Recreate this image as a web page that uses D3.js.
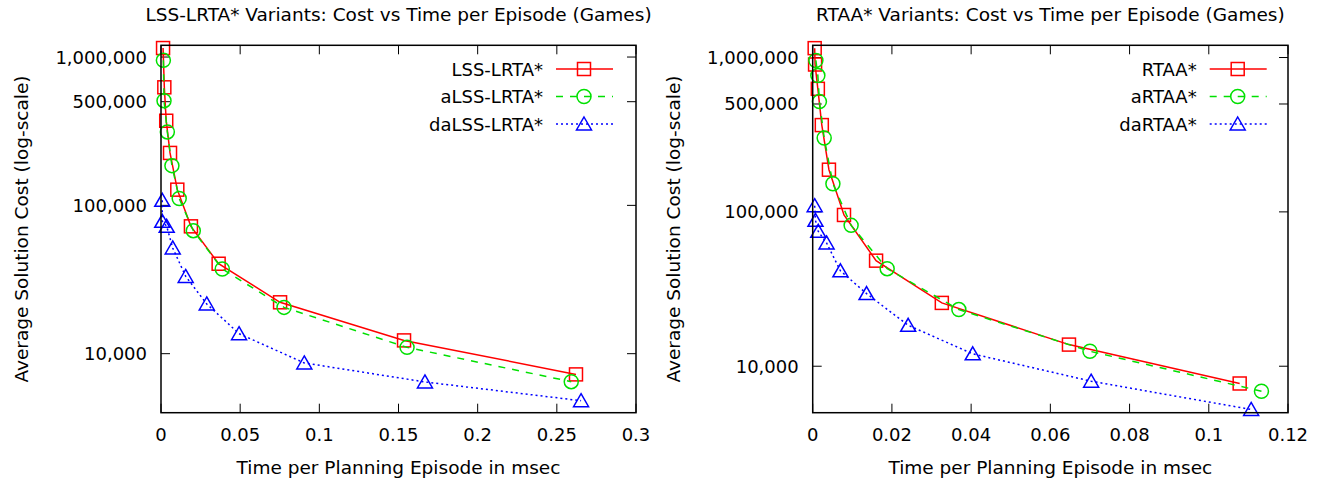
<!DOCTYPE html>
<html>
<head>
<meta charset="utf-8">
<script src="https://cdn.jsdelivr.net/npm/d3@7"></script>
<style>
  body { margin: 0; background: #fff; }
  svg { display: block; font-family: "DejaVu Sans", sans-serif; }
</style>
</head>
<body>
<svg id="chart" width="1325" height="481"></svg>
<script>
// --- data ---
const lssNames = ["LSS-LRTA*", "aLSS-LRTA*", "daLSS-LRTA*"];
const lssTime = [
  [0.0013, 0.0021, 0.0033, 0.0057, 0.0103, 0.0189, 0.0364, 0.0752, 0.1535, 0.2621],
  [0.0015, 0.0019, 0.0040, 0.0069, 0.0115, 0.0204, 0.0387, 0.0777, 0.1554, 0.2591],
  [0.0008, 0.0008, 0.0036, 0.0074, 0.0156, 0.0289, 0.0493, 0.0905, 0.1667, 0.2653]
];
const lssCost = [
  [1150000, 625000, 372000, 225700, 127600, 72200, 40400, 22200, 12290, 7250],
  [950000, 508000, 312600, 185300, 111300, 67500, 37240, 20520, 11030, 6475],
  [108100, 78000, 72200, 51600, 33200, 21630, 13640, 8660, 6447, 4820]
];

const rtaaNames = ["RTAA*", "aRTAA*", "daRTAA*"];
const rtaaTime = [
  [0.0005, 0.0006, 0.0013, 0.0023, 0.0041, 0.0079, 0.0160, 0.0326, 0.0647, 0.1078],
  [0.0008, 0.0013, 0.0017, 0.0029, 0.0051, 0.0097, 0.0188, 0.0369, 0.0700, 0.1133],
  [0.0005, 0.0007, 0.0014, 0.0035, 0.0070, 0.0136, 0.0241, 0.0404, 0.0703, 0.1107]
];
const rtaaCost = [
  [1150000, 901000, 627000, 365000, 187600, 95500, 48300, 25720, 13810, 7730],
  [957000, 764000, 518000, 300900, 152200, 81770, 42870, 23280, 12500, 6890],
  [109700, 88100, 74800, 62900, 41500, 29550, 18420, 12030, 8000, 5245]
];

const yTicks = [10000, 100000, 500000, 1000000];
const yTickLabels = ["10,000", "100,000", "500,000", "1,000,000"];
const lssXTicks = [0, 0.05, 0.1, 0.15, 0.2, 0.25, 0.3];
const lssXTickLabels = ["0", "0.05", "0.1", "0.15", "0.2", "0.25", "0.3"];
const rtaaXTicks = [0, 0.02, 0.04, 0.06, 0.08, 0.1, 0.12];
const rtaaXTickLabels = ["0", "0.02", "0.04", "0.06", "0.08", "0.1", "0.12"];

// --- styles ---
const colors = ["#ff0000", "#00e000", "#0000ff"];
const dashes = [null, "7,7", "2,3"];
const FONT = 18;
const LABEL_FONT = 18.5;

const svg = d3.select("#chart");

function marker(g, kind, cx, cy, color) {
  if (kind === 0) {
    g.append("rect").attr("x", cx - 6.5).attr("y", cy - 6.5)
      .attr("width", 13).attr("height", 13)
      .attr("fill", "none").attr("stroke", color).attr("stroke-width", 1.5);
  } else if (kind === 1) {
    g.append("circle").attr("cx", cx).attr("cy", cy).attr("r", 7)
      .attr("fill", "none").attr("stroke", color).attr("stroke-width", 1.5);
  } else {
    g.append("path")
      .attr("d", `M${cx},${cy - 7} L${cx + 7.5},${cy + 6} L${cx - 7.5},${cy + 6} Z`)
      .attr("fill", "none").attr("stroke", color).attr("stroke-width", 1.5);
  }
}

function panel(opt) {
  const x = d3.scaleLinear().domain(opt.xDomain).range([opt.left, opt.right]);
  const y = d3.scaleLog().domain(opt.yDomain).range([opt.bottom, opt.top]);
  const g = svg.append("g");

  // ticks (inward, mirrored on all sides)
  const tl = 9;
  opt.xTicks.forEach((t, i) => {
    g.append("line").attr("x1", x(t)).attr("x2", x(t))
      .attr("y1", opt.bottom).attr("y2", opt.bottom - tl).attr("stroke", "#000");
    g.append("line").attr("x1", x(t)).attr("x2", x(t))
      .attr("y1", opt.top).attr("y2", opt.top + tl).attr("stroke", "#000");
    g.append("text").attr("x", x(t)).attr("y", opt.bottom + 28)
      .attr("text-anchor", "middle").style("font-size", FONT + "px")
      .text(opt.xTickLabels[i]);
  });
  yTicks.forEach((t, i) => {
    g.append("line").attr("x1", opt.left).attr("x2", opt.left + tl)
      .attr("y1", y(t)).attr("y2", y(t)).attr("stroke", "#000");
    g.append("line").attr("x1", opt.right).attr("x2", opt.right - tl)
      .attr("y1", y(t)).attr("y2", y(t)).attr("stroke", "#000");
    g.append("text").attr("x", opt.left - 14).attr("y", y(t) + 6.5)
      .attr("text-anchor", "end").style("font-size", FONT + "px")
      .text(yTickLabels[i]);
  });

  // series
  const line = d3.line().x(d => x(d[0])).y(d => y(d[1]));
  opt.cost.forEach((c, s) => {
    const pts = opt.time[s].map((t, i) => [t, c[i]]);
    g.append("path").datum(pts).attr("d", line)
      .attr("fill", "none").attr("stroke", colors[s]).attr("stroke-width", 1.5)
      .attr("stroke-dasharray", dashes[s]);
    pts.forEach(p => marker(g, s, x(p[0]), y(p[1]), colors[s]));
  });

  // border
  g.append("rect").attr("x", opt.left).attr("y", opt.top)
    .attr("width", opt.right - opt.left).attr("height", opt.bottom - opt.top)
    .attr("fill", "none").attr("stroke", "#000").attr("stroke-width", 1.5);

  // legend
  opt.names.forEach((n, s) => {
    const ly = 69 + s * 27.5;
    g.append("text").attr("x", opt.legX).attr("y", ly + 6.5)
      .attr("text-anchor", "end").style("font-size", FONT + "px").text(n);
    g.append("line").attr("x1", opt.legX + 13).attr("x2", opt.legX + 70)
      .attr("y1", ly).attr("y2", ly)
      .attr("stroke", colors[s]).attr("stroke-width", 1.5)
      .attr("stroke-dasharray", dashes[s]);
    marker(g, s, opt.legX + 41, ly, colors[s]);
  });

  // titles
  const cx = (opt.left + opt.right) / 2;
  g.append("text").attr("x", cx).attr("y", 21)
    .attr("text-anchor", "middle").style("font-size", LABEL_FONT + "px").text(opt.title);
  g.append("text").attr("x", cx).attr("y", 473.5)
    .attr("text-anchor", "middle").style("font-size", LABEL_FONT + "px")
    .text("Time per Planning Episode in msec");
  g.append("text")
    .attr("transform", `translate(${opt.yLabelX},${(opt.top + opt.bottom) / 2}) rotate(-90)`)
    .attr("text-anchor", "middle").style("font-size", LABEL_FONT + "px")
    .text("Average Solution Cost (log-scale)");
}

panel({
  left: 161, right: 636, top: 45.3, bottom: 412.7,
  xDomain: [0, 0.3], yDomain: [4000, 1200000],
  xTicks: lssXTicks, xTickLabels: lssXTickLabels,
  time: lssTime, cost: lssCost, names: lssNames,
  legX: 543, yLabelX: 28,
  title: "LSS-LRTA* Variants: Cost vs Time per Episode (Games)"
});
panel({
  left: 812.7, right: 1288, top: 45.3, bottom: 412.7,
  xDomain: [0, 0.12], yDomain: [5000, 1200000],
  xTicks: rtaaXTicks, xTickLabels: rtaaXTickLabels,
  time: rtaaTime, cost: rtaaCost, names: rtaaNames,
  legX: 1196.7, yLabelX: 680,
  title: "RTAA* Variants: Cost vs Time per Episode (Games)"
});
</script>
</body>
</html>
